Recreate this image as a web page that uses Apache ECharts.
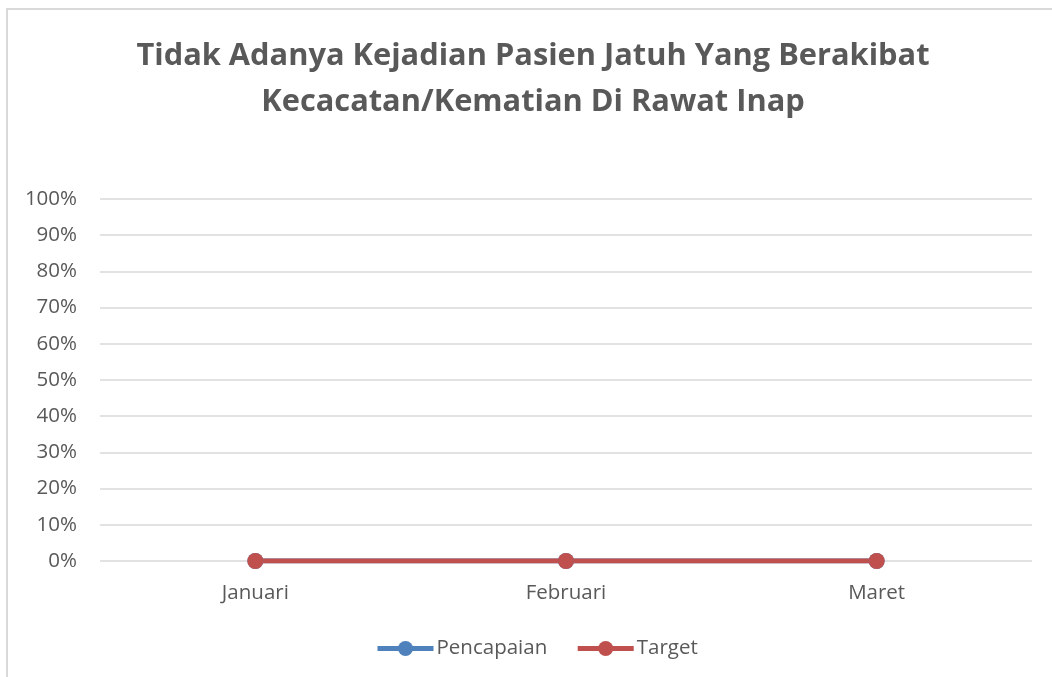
<!DOCTYPE html>
<html><head><meta charset="utf-8">
<script src="https://cdn.jsdelivr.net/npm/echarts@6/dist/echarts.min.js"></script>
<style>html,body{margin:0;padding:0;background:#fff}
#frame{position:absolute;left:6px;top:8px;width:1100px;height:700px;border:2px solid #d9d9d9;box-sizing:border-box}
#c{position:absolute;left:0;top:0;width:1052px;height:677px}</style>
</head><body><div id="frame"></div><div id="c"></div>
<script>
const categories = ['Januari', 'Februari', 'Maret'];
const pencapaian = [0, 0, 0];
const target = [0, 0, 0];
const yTicks = [0, 10, 20, 30, 40, 50, 60, 70, 80, 90, 100];
const chart = echarts.init(document.getElementById('c'));
const font = '"Open Sans", "Noto Sans", sans-serif';
chart.setOption({
  backgroundColor: 'transparent',
  title: {
    text: 'Tidak Adanya Kejadian Pasien Jatuh Yang Berakibat\nKecacatan/Kematian Di Rawat Inap',
    left: 528, top: 28, textAlign: 'center',
    textStyle: {fontFamily: font, fontSize: 30.8, fontWeight: 'bold', color: '#595959', lineHeight: 46}
  },
  legend: {
    bottom: 13, left: 370, itemWidth: 56, itemHeight: 19, itemGap: 28,
    lineStyle: {width: 5},
    textStyle: {fontFamily: font, fontSize: 20.5, color: '#595959', padding: [0,0,0,-2]},
    data: ['Pencapaian', 'Target']
  },
  grid: {left: 100, right: 20, top: 199, bottom: 116, containLabel: false},
  xAxis: {
    type: 'category', data: categories, boundaryGap: true,
    axisLine: {show: false}, axisTick: {show: false},
    axisLabel: {fontFamily: font, fontSize: 20.5, color: '#595959', margin: 22}
  },
  yAxis: {
    type: 'value', min: 0, max: 100, interval: 10,
    axisLine: {show: false}, axisTick: {show: false},
    splitLine: {lineStyle: {color: '#d9d9d9', width: 1.5}},
    axisLabel: {fontFamily: font, fontSize: 20.5, color: '#595959', margin: 23,
      formatter: v => yTicks.includes(v) ? v + '%' : ''}
  },
  series: [
    {name: 'Pencapaian', type: 'line', data: pencapaian, symbol: 'circle', symbolSize: 16,
     lineStyle: {width: 5, color: '#4F81BD'}, itemStyle: {color: '#4F81BD'}},
    {name: 'Target', type: 'line', data: target, symbol: 'circle', symbolSize: 16,
     lineStyle: {width: 5, color: '#C0504D'}, itemStyle: {color: '#C0504D'}}
  ]
});
</script></body></html>
